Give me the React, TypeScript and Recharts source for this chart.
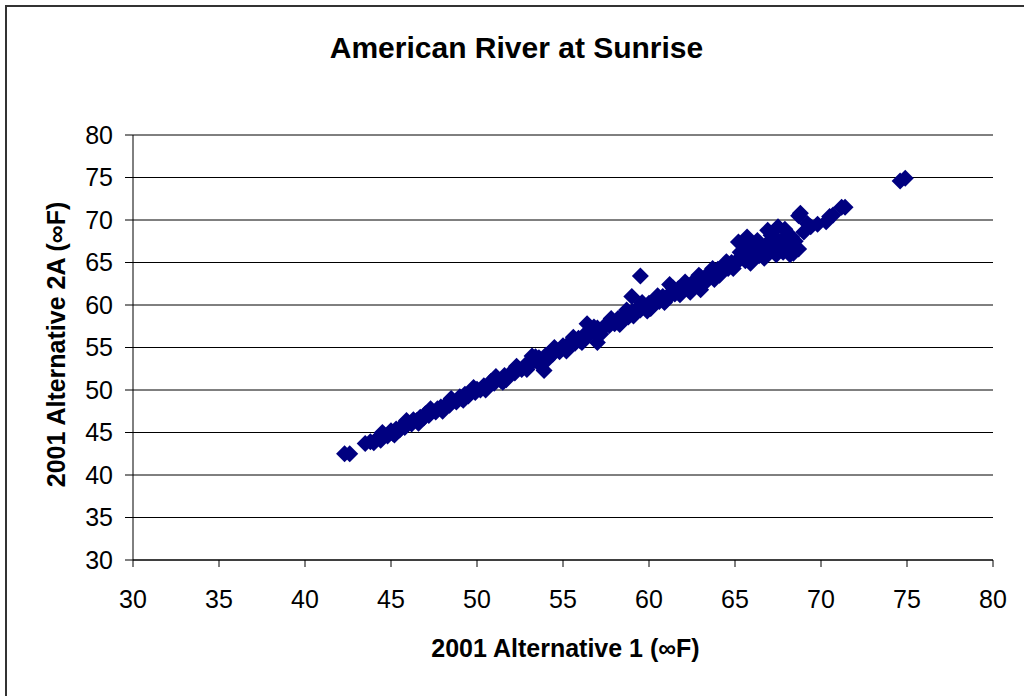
import React from "react";
import { ScatterChart, Scatter, XAxis, YAxis, CartesianGrid, Label } from "recharts";

// Daily water temperatures (°F): 2001 Alternative 1 vs 2001 Alternative 2A
const alt1 = [
  42.3, 42.6, 43.5, 43.8, 44.0, 44.2, 44.4, 44.6, 44.8, 45.0,
  45.1, 45.3, 45.5, 45.6, 45.8, 46.0, 46.2, 46.3, 46.5, 46.7,
  46.9, 47.0, 47.2, 47.4, 47.6, 47.7, 47.9, 48.1, 48.2, 48.4,
  48.6, 48.8, 49.0, 49.1, 49.3, 49.5, 49.7, 49.9, 50.0, 50.2,
  50.4, 50.6, 50.8, 51.0, 51.2, 51.4, 51.5, 51.6, 51.8, 52.0,
  52.2, 52.4, 52.6, 52.8, 53.0, 53.2, 53.3, 53.5, 53.6, 53.9,
  54.0, 54.2, 54.4, 54.6, 54.8, 55.0, 55.1, 55.3, 55.5, 55.7,
  55.9, 56.0, 56.2, 56.4, 56.5, 56.7, 56.9, 57.0, 57.0, 57.3,
  57.5, 57.7, 57.9, 58.0, 58.2, 58.4, 58.6, 58.8, 59.0, 59.0,
  59.3, 59.5, 59.5, 59.7, 59.9, 60.0, 60.2, 60.4, 60.6, 60.8,
  61.0, 61.2, 61.3, 61.5, 61.7, 62.0, 62.2, 62.4, 62.6, 62.8,
  63.0, 63.0, 63.2, 63.4, 63.6, 63.8, 64.0, 64.2, 64.4, 64.6,
  64.8, 65.0, 65.2, 65.2, 65.4, 65.5, 65.6, 65.7, 65.8, 66.0,
  66.0, 66.2, 66.4, 66.5, 66.6, 66.8, 66.9, 67.0, 67.2, 67.3,
  67.5, 67.5, 67.7, 67.8, 68.0, 68.0, 68.2, 68.4, 68.3, 68.5,
  68.7, 68.7, 68.8, 69.0, 69.2, 69.4, 69.8, 70.3, 70.5, 70.7,
  71.2, 71.4, 74.6, 74.9,
  44.5, 45.2, 45.9, 46.6, 47.3, 48.0, 48.5, 49.2, 49.8, 50.5,
  51.1, 51.7, 52.3, 52.9, 53.4, 54.1, 54.5, 55.2, 55.6, 56.1,
  56.8, 57.2, 57.8, 58.3, 58.7, 59.1, 59.6, 60.1, 60.5, 60.9,
  61.4, 61.8, 62.1, 62.5, 62.9, 63.3, 63.7, 64.1, 64.5, 64.9,
  65.3, 65.9, 66.3, 66.7, 67.1, 67.4, 67.9, 68.1,
];

const alt2A = [
  42.5, 42.5, 43.7, 43.9, 43.8, 44.3, 44.1, 44.7, 44.6, 45.2,
  44.9, 45.4, 45.3, 45.7, 45.6, 46.1, 46.0, 46.5, 46.4, 46.8,
  46.7, 47.2, 47.0, 47.5, 47.4, 47.8, 48.0, 47.9, 48.3, 48.2,
  48.7, 48.6, 49.2, 49.0, 49.5, 49.3, 49.8, 49.7, 50.1, 50.0,
  50.5, 50.4, 51.0, 50.8, 51.3, 51.1, 50.9, 51.7, 51.6, 52.1,
  52.0, 52.5, 52.4, 52.9, 53.1, 54.0, 53.4, 53.3, 53.8, 52.3,
  54.1, 54.3, 54.2, 54.7, 54.5, 55.2, 54.9, 55.4, 55.6, 55.5,
  56.1, 55.8, 56.4, 57.8, 56.5, 56.9, 56.6, 57.3, 55.6, 57.2,
  57.7, 57.6, 58.1, 57.8, 58.4, 58.3, 58.9, 58.6, 59.2, 61.0,
  59.6, 63.4, 59.4, 59.9, 59.3, 60.2, 60.0, 60.6, 60.4, 61.0,
  60.6, 62.4, 61.5, 61.3, 61.9, 61.8, 62.4, 61.5, 62.8, 62.6,
  63.3, 61.8, 63.0, 63.6, 63.4, 63.0, 64.2, 64.0, 64.6, 64.3,
  65.0, 64.8, 65.4, 67.4, 65.7, 66.5, 65.2, 68.0, 66.0, 65.6,
  67.2, 66.4, 65.8, 67.0, 66.6, 66.0, 68.8, 67.5, 66.4, 68.0,
  69.2, 66.8, 67.5, 66.2, 68.2, 67.0, 65.9, 66.1, 68.0, 67.5,
  70.5, 66.6, 70.8, 68.6, 69.6, 69.2, 69.5, 69.8, 70.4, 70.6,
  71.5, 71.5, 74.6, 74.9,
  45.0, 44.7, 46.4, 46.1, 47.8, 47.5, 49.0, 48.8, 50.3, 50.0,
  51.6, 51.2, 52.8, 52.4, 53.9, 53.6, 55.0, 54.6, 56.2, 55.6,
  57.4, 56.6, 58.4, 57.7, 59.4, 58.7, 60.3, 59.6, 61.1, 60.3,
  62.0, 61.2, 62.7, 61.9, 63.5, 62.7, 64.3, 63.5, 65.1, 64.3,
  66.2, 64.9, 67.6, 65.5, 68.2, 65.9, 68.9, 66.6,
];

const axisTicks = [30, 35, 40, 45, 50, 55, 60, 65, 70, 75, 80];

const points = alt1.map((x, i) => ({ x, y: alt2A[i] }));

const FONT = '"Liberation Sans", Arial, sans-serif';
const MARKER = "#000080";

const Diamond = (props: any) => {
  const { cx, cy } = props;
  if (cx == null || cy == null) return null;
  const r = 8.5;
  return (
    <polygon
      points={`${cx},${cy - r} ${cx + r},${cy} ${cx},${cy + r} ${cx - r},${cy}`}
      fill={MARKER}
    />
  );
};

const XTitle = (props: any) => {
  const vb = props.viewBox || {};
  return (
    <text
      x={vb.x + vb.width / 2 + 2.5}
      y={657}
      textAnchor="middle"
      fontFamily={FONT}
      fontSize={25}
      fontWeight="bold"
      fill="#000"
    >
      2001 Alternative 1 (∞F)
    </text>
  );
};

const YTitle = (props: any) => {
  const vb = props.viewBox || {};
  const cx = 65;
  const cy = vb.y + vb.height / 2 - 3;
  return (
    <text
      x={cx}
      y={cy}
      transform={`rotate(-90 ${cx} ${cy})`}
      textAnchor="middle"
      fontFamily={FONT}
      fontSize={25}
      fontWeight="bold"
      fill="#000"
    >
      2001 Alternative 2A (∞F)
    </text>
  );
};

export default function App() {
  return (
    <div
      style={{
        position: "fixed",
        left: 0,
        top: 0,
        width: 1024,
        height: 696,
        overflow: "hidden",
        background: "#fff",
        fontFamily: FONT,
      }}
    >
      <div
        style={{
          position: "absolute",
          left: 5,
          top: 5,
          width: 1100,
          height: 800,
          border: "2px solid #333",
          boxSizing: "border-box",
        }}
      />
      <ScatterChart
        width={1024}
        height={696}
        margin={{ top: 135, right: 31, bottom: 0, left: 0 }}
        style={{ position: "absolute", left: 0, top: 0 }}
      >
        <CartesianGrid horizontal vertical={false} stroke="#000" strokeWidth={1} />
        <XAxis
          type="number"
          dataKey="x"
          domain={[30, 80]}
          ticks={axisTicks}
          interval={0}
          height={136}
          tickSize={7}
          tickMargin={23}
          axisLine={{ stroke: "#000" }}
          tickLine={{ stroke: "#000" }}
          tick={{ fontSize: 25, fill: "#000", fontFamily: FONT }}
        >
          <Label content={<XTitle />} />
        </XAxis>
        <YAxis
          type="number"
          dataKey="y"
          domain={[30, 80]}
          ticks={axisTicks}
          interval={0}
          width={133}
          tickSize={8}
          tickMargin={12}
          axisLine={{ stroke: "#000" }}
          tickLine={{ stroke: "#000" }}
          tick={{ fontSize: 25, fill: "#000", fontFamily: FONT }}
        >
          <Label content={<YTitle />} />
        </YAxis>
        <Scatter data={points} fill={MARKER} shape={<Diamond />} isAnimationActive={false} />
      </ScatterChart>
      <svg
        width={1024}
        height={696}
        style={{ position: "absolute", left: 0, top: 0, pointerEvents: "none" }}
      >
        <text
          x={516.5}
          y={58}
          textAnchor="middle"
          fontFamily={FONT}
          fontSize={30}
          fontWeight="bold"
          fill="#000"
        >
          American River at Sunrise
        </text>
      </svg>
    </div>
  );
}
